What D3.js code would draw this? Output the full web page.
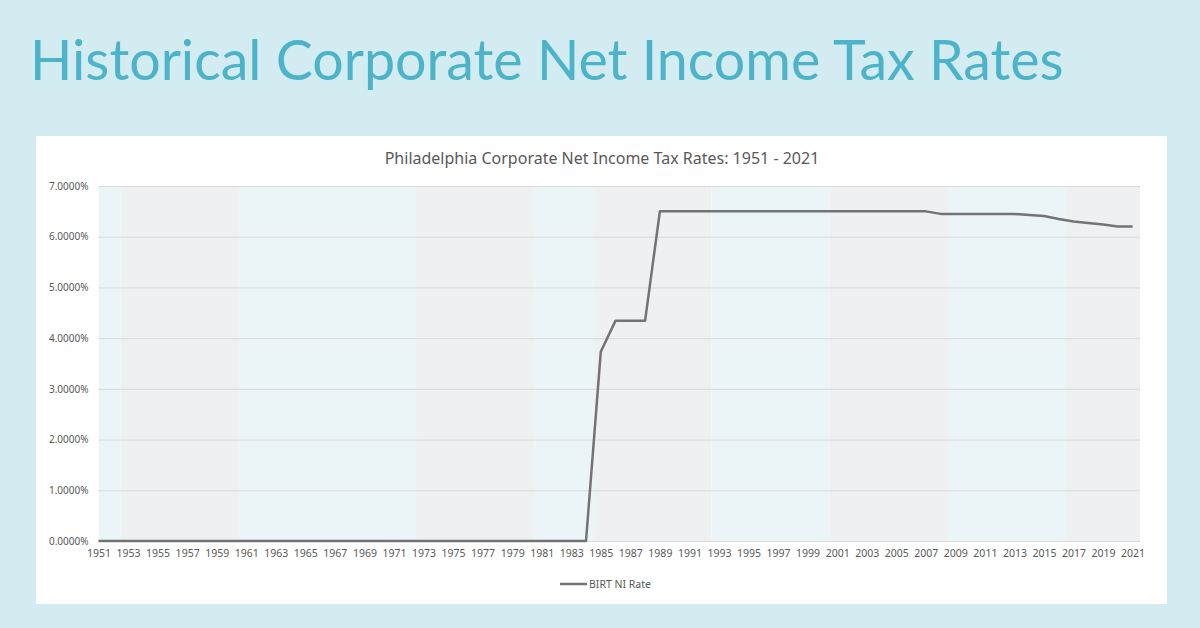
<!DOCTYPE html>
<html>
<head>
<meta charset="utf-8">
<script src="https://cdn.jsdelivr.net/npm/d3@7"></script>
<style>
  html, body { margin: 0; padding: 0; background: #d3ecf2; }
  svg { display: block; }
</style>
</head>
<body>
<div id="root"></div>
<script>
// data
var years = d3.range(1951, 2022);
var rates = [
  // 1951-1984
  0, 0, 0, 0, 0, 0, 0, 0, 0, 0,
  0, 0, 0, 0, 0, 0, 0, 0, 0, 0,
  0, 0, 0, 0, 0, 0, 0, 0, 0, 0,
  0, 0, 0, 0,
  // 1985-1988
  3.73, 4.345, 4.345, 4.345,
  // 1989-2007
  6.5, 6.5, 6.5, 6.5, 6.5, 6.5, 6.5, 6.5, 6.5, 6.5,
  6.5, 6.5, 6.5, 6.5, 6.5, 6.5, 6.5, 6.5, 6.5,
  // 2008-2013
  6.45, 6.45, 6.45, 6.45, 6.45, 6.45,
  // 2014-2021
  6.43, 6.41, 6.35, 6.30, 6.27, 6.24, 6.20, 6.20
];
// shaded periods behind the line (edges in years)
var bandEdges = [1951, 1952.5, 1960.5, 1972.5, 1980.5, 1984.5, 1992.5, 2000.5, 2008.5, 2016.5, 2021.5];
var bandColors = ['#ebf5f8', '#eff0f2'];
var yTicks = [0, 0.01, 0.02, 0.03, 0.04, 0.05, 0.06, 0.07];
var xTickYears = d3.range(1951, 2022, 2);
var seriesName = 'BIRT NI Rate';

var width = 1200;
var height = 628;

var svg = d3.select('#root')
  .append('svg')
    .attr('width', width)
    .attr('height', height);

// page title, sized so it spans the same width as the reference
var title = svg.append('text')
  .attr('x', 30)
  .attr('y', 80)
  .style('font-family', 'Lato, "Open Sans", sans-serif')
  .style('font-size', '70px')
  .style('fill', '#4cb3c8')
  .text('Historical Corporate Net Income Tax Rates');
var tw = title.node().getComputedTextLength();
title.style('font-size', (70 * 1034 / tw) + 'px');

// white chart panel
svg.append('rect')
  .attr('x', 36)
  .attr('y', 136)
  .attr('width', 1131)
  .attr('height', 468)
  .style('fill', '#fff');

svg.append('text')
  .attr('x', 602)
  .attr('y', 164)
  .attr('text-anchor', 'middle')
  .style('font-family', '"Noto Sans", sans-serif')
  .style('font-size', '16px')
  .style('fill', '#595959')
  .text('Philadelphia Corporate Net Income Tax Rates: 1951 - 2021');

var x = d3.scaleLinear().domain([1951, 2021.5]).range([98.5, 1140]);
var y = d3.scaleLinear().domain([0, 0.07]).range([541, 186]);

// background bands
svg.selectAll('rect.band')
  .data(d3.pairs(bandEdges))
  .enter()
  .append('rect')
    .attr('class', 'band')
    .attr('x', function(d) { return x(d[0]); })
    .attr('y', y(0.07))
    .attr('width', function(d) { return x(d[1]) - x(d[0]); })
    .attr('height', y(0) - y(0.07))
    .style('fill', function(d, i) { return bandColors[i % 2]; });

// gridlines + y labels
var yAxis = d3.axisLeft(y)
  .tickValues(yTicks)
  .tickSize(-(x(2021.5) - x(1951)))
  .tickPadding(10)
  .tickFormat(function(d) { return (d * 100).toFixed(4) + '%'; });

var gy = svg.append('g')
  .attr('transform', 'translate(' + x(1951) + ',0)')
  .call(yAxis);
gy.select('.domain').remove();
gy.selectAll('.tick line')
  .style('stroke', '#d9d9d9')
  .style('stroke-width', 1);
gy.selectAll('.tick text')
  .style('font-family', '"Noto Sans", sans-serif')
  .style('font-size', '10px')
  .style('fill', '#595959');

// x labels
var xAxis = d3.axisBottom(x)
  .tickValues(xTickYears)
  .tickSize(0)
  .tickPadding(9)
  .tickFormat(d3.format('d'));

var gx = svg.append('g')
  .attr('transform', 'translate(0,' + y(0) + ')')
  .call(xAxis);
gx.select('.domain').remove();
gx.selectAll('.tick text')
  .style('font-family', '"Noto Sans", sans-serif')
  .style('font-size', '10.5px')
  .style('fill', '#595959');

// the series line
var line = d3.line()
  .x(function(d, i) { return x(years[i]); })
  .y(function(d) { return y(d / 100); });

svg.append('path')
  .datum(rates)
  .attr('d', line)
  .style('fill', 'none')
  .style('stroke', '#737373')
  .style('stroke-width', 2.5)
  .style('stroke-linejoin', 'round');

// legend
var legend = svg.append('g').attr('transform', 'translate(560,584)');
legend.append('line')
  .attr('x1', 0).attr('x2', 27)
  .style('stroke', '#737373')
  .style('stroke-width', 2.5);
legend.append('text')
  .attr('x', 29)
  .attr('dy', '0.35em')
  .style('font-family', '"Noto Sans", sans-serif')
  .style('font-size', '10.5px')
  .style('fill', '#595959')
  .text(seriesName);
</script>
</body>
</html>
